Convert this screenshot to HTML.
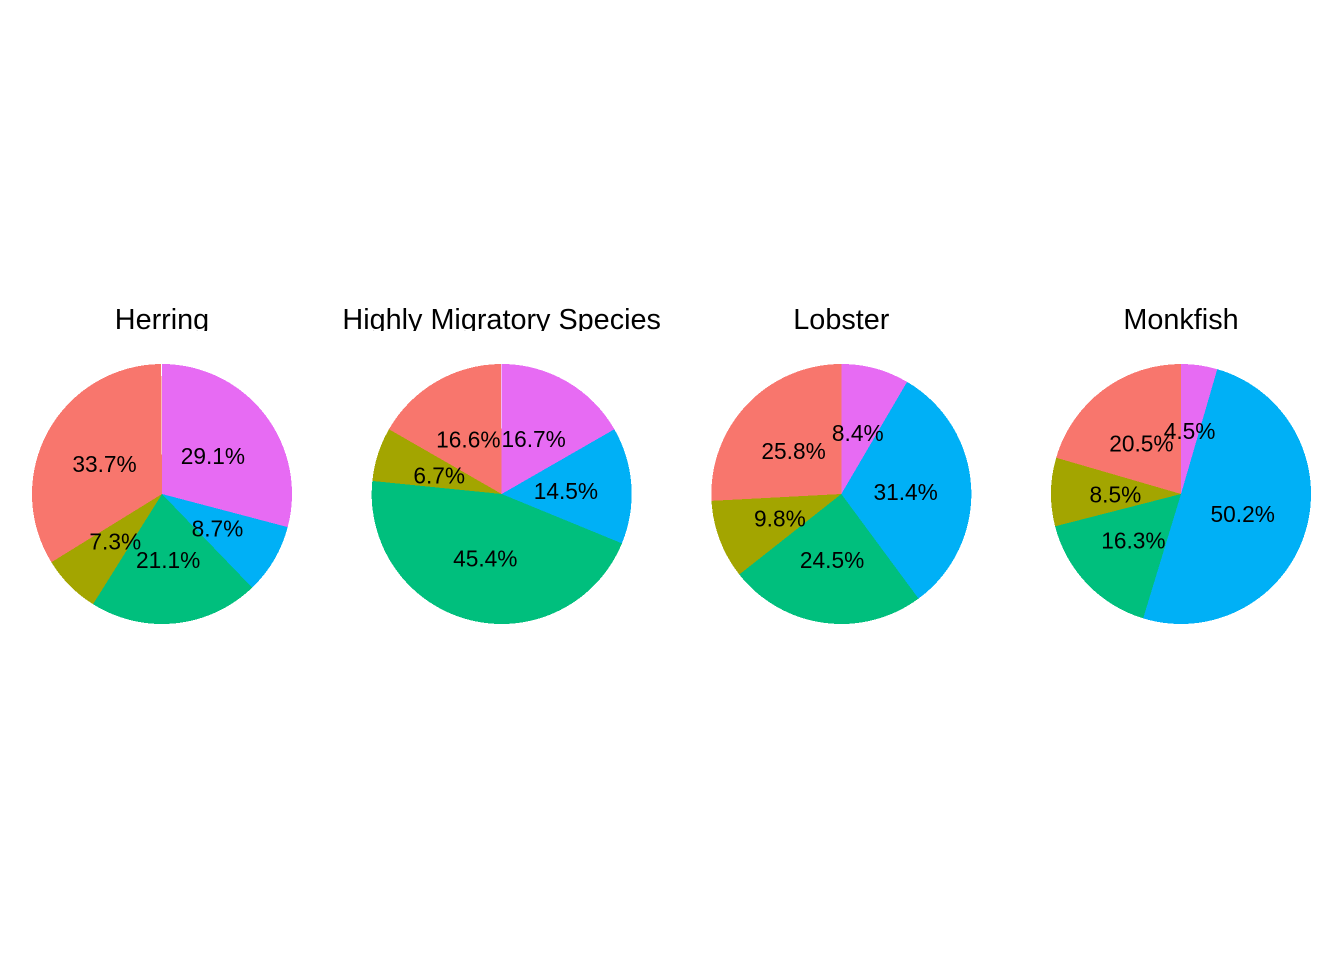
<!DOCTYPE html>
<html>
<head>
<meta charset="utf-8">
<title>Pie charts by fishery</title>
<style>
html,body{margin:0;padding:0;background:#fff;}
svg{display:block;font-family:"Liberation Sans",Arial,sans-serif;}
</style>
</head>
<body>
<svg id="chart" width="1344" height="960" viewBox="0 0 1344 960" xmlns="http://www.w3.org/2000/svg">
<rect x="0" y="0" width="1344" height="960" fill="#ffffff"/>
<defs>
<clipPath id="title-clip"><rect x="0" y="290" width="1344" height="41"/></clipPath>
</defs>
</svg>
<script>
const categories = ["Herring", "Highly Migratory Species", "Lobster", "Monkfish"];
const purpleShare = [29.1, 16.7, 8.44, 4.5];
const blueShare = [8.7, 14.5, 31.44, 50.2];
const greenShare = [21.1, 45.4, 24.49, 16.3];
const oliveShare = [7.3, 6.7, 9.79, 8.5];
const redShare = [33.7, 16.6, 25.84, 20.5];
const seriesList = [purpleShare, blueShare, greenShare, oliveShare, redShare];
const seriesNames = ["purple", "blue", "green", "olive", "red"];
const seriesColors = ["#E76BF3", "#00B0F6", "#00BF7D", "#A3A500", "#F8766D"];

const svgNS = "http://www.w3.org/2000/svg";
const svg = document.getElementById("chart");
const firstCx = 162, panelStep = 339.67, cy = 494, radius = 130;
const labelRadius = radius / 2, labelDx = -0.6, labelDy = 9.5;

function panelX(i) { return firstCx + i * panelStep; }
function angleOf(share) { return share / 100 * 2 * Math.PI; }
function polar(cx, r, a) { return [cx + r * Math.sin(a), cy - r * Math.cos(a)]; }
function slug(s) { return s.toLowerCase().replace(/\s+/g, "-"); }

categories.forEach(function (cat, i) {
  const cx = panelX(i);
  const key = slug(cat);

  const title = document.createElementNS(svgNS, "text");
  
  
  title.setAttribute("x", cx);
  title.setAttribute("y", 329);
  title.setAttribute("text-anchor", "middle");
  title.setAttribute("font-size", "28.8");
  title.setAttribute("fill", "#000");
  title.setAttribute("clip-path", "url(#title-clip)");
  title.textContent = cat;
  svg.appendChild(title);

  let cum = 0;
  seriesList.forEach(function (values, s) {
    const v = values[i];
    const a0 = angleOf(cum), a1 = angleOf(cum + v);
    const p0 = polar(cx, radius, a0), p1 = polar(cx, radius, a1);
    const large = v > 50 ? 1 : 0;
    const wedge = document.createElementNS(svgNS, "path");
    
    
    wedge.setAttribute("d", "M" + cx + " " + cy + "L" + p0[0] + " " + p0[1] +
      "A" + radius + " " + radius + " 0 " + large + " 1 " + p1[0] + " " + p1[1] + "Z");
    wedge.setAttribute("fill", seriesColors[s]);
    wedge.setAttribute("shape-rendering", "crispEdges");
    svg.appendChild(wedge);
    cum += v;
  });
});

categories.forEach(function (cat, i) {
  const cx = panelX(i);
  const key = slug(cat);
  let cum = 0;
  seriesList.forEach(function (values, s) {
    const v = values[i];
    const p = polar(cx, labelRadius, angleOf(cum + v / 2));
    const label = document.createElementNS(svgNS, "text");
    
    
    label.setAttribute("x", p[0] + labelDx);
    label.setAttribute("y", p[1] + labelDy);
    label.setAttribute("text-anchor", "middle");
    label.setAttribute("font-size", "22.7");
    label.setAttribute("fill", "#000");
    label.textContent = v.toFixed(1) + "%";
    svg.appendChild(label);
    cum += v;
  });
});
</script>
</body>
</html>
